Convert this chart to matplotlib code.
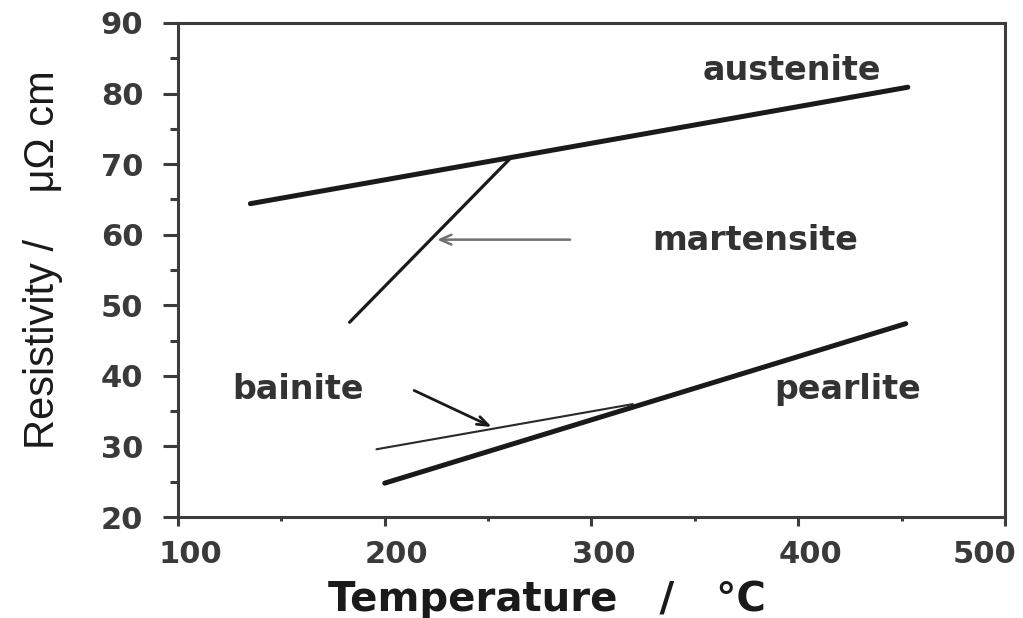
import matplotlib
matplotlib.use("Agg")
import matplotlib.pyplot as plt
import matplotlib.transforms as mtransforms
from matplotlib.ticker import MultipleLocator

# phase lines (temperature in C, resistivity in micro-ohm cm)
austenite_t = [135, 453]
austenite_r = [64.4, 80.9]
martensite_t = [183, 261]
martensite_r = [47.6, 70.9]
pearlite_t = [200, 452]
pearlite_r = [24.8, 47.4]
bainite_t = [196, 320]
bainite_r = [29.6, 36.0]

# labels: (text, x, y)
labels = [("austenite", 397, 83.3), ("martensite", 379, 59.2),
          ("bainite", 158, 38.0), ("pearlite", 424, 38.0)]

# arrows: (tail x, tail y, head x, head y)
mart_arrow = (291, 59.3, 224, 59.3)
bain_arrow = (213, 38.1, 253, 32.6)

ink = "#1a1a1a"
grey = "#3c3c3c"

fig = plt.figure(figsize=(10.23, 6.18), dpi=100)
ax = fig.add_axes([0.174, 0.1634, 0.8084, 0.7994])

ax.plot(austenite_t, austenite_r, color=ink, lw=3.6, solid_capstyle="round")
ax.plot(pearlite_t, pearlite_r, color=ink, lw=3.6, solid_capstyle="round")
ax.plot(martensite_t, martensite_r, color=ink, lw=2.3, solid_capstyle="round")
ax.plot(bainite_t, bainite_r, color="#2a2a2a", lw=1.5, solid_capstyle="round")

ax.annotate("", xy=mart_arrow[2:], xytext=mart_arrow[:2],
            arrowprops=dict(arrowstyle="->,head_length=0.8,head_width=0.35",
                            color="#707070", lw=1.8))
ax.annotate("", xy=bain_arrow[2:], xytext=bain_arrow[:2],
            arrowprops=dict(arrowstyle="->,head_length=0.8,head_width=0.3",
                            color=ink, lw=2.0))

for txt, x, y in labels:
    ax.text(x, y, txt, ha="center", va="center", fontsize=24,
            fontweight="bold", color="#333333", family="DejaVu Sans")

ax.set_xlim(100, 500)
ax.set_ylim(20, 90)
ax.xaxis.set_major_locator(MultipleLocator(100))
ax.xaxis.set_minor_locator(MultipleLocator(50))
ax.yaxis.set_major_locator(MultipleLocator(10))
ax.yaxis.set_minor_locator(MultipleLocator(5))

for s in ax.spines.values():
    s.set_linewidth(2.2)
    s.set_color(grey)

ax.tick_params(axis="y", which="major", length=11, width=2.2, color=grey, pad=14)
ax.tick_params(axis="y", which="minor", length=6, width=2.2, color=grey)
ax.tick_params(axis="x", which="major", length=6.5, width=2.2, color=grey, pad=10)
ax.tick_params(axis="x", which="minor", length=3, width=2.2, color=grey)

for lab in ax.get_xticklabels() + ax.get_yticklabels():
    lab.set_fontsize(22)
    lab.set_fontweight("bold")
    lab.set_color("#3a3a3a")
    lab.set_family("DejaVu Sans")

# the scanned labels sit a little right of their ticks, the last one left
fig.canvas.draw()
for lab in ax.get_xticklabels():
    shift = -20 if lab.get_text() == "500" else 12
    off = mtransforms.ScaledTranslation(shift / 100, 0, fig.dpi_scale_trans)
    lab.set_transform(lab.get_transform() + off)

ax.set_xlabel("Temperature   /   °C", fontsize=29, fontweight="bold",
              color=ink, family="DejaVu Sans")
ax.xaxis.set_label_coords(0.446, -0.127, transform=ax.transAxes)
ax.xaxis.label.set_va("top")

ax.set_ylabel("Resistivity /    \u03bc\u03a9 cm", fontsize=30, color=ink,
              family=["Liberation Sans Narrow", "Liberation Sans", "DejaVu Sans"])
ax.yaxis.set_label_coords(-0.139, 0.52, transform=ax.transAxes)

fig.savefig("out.png", dpi=100)
